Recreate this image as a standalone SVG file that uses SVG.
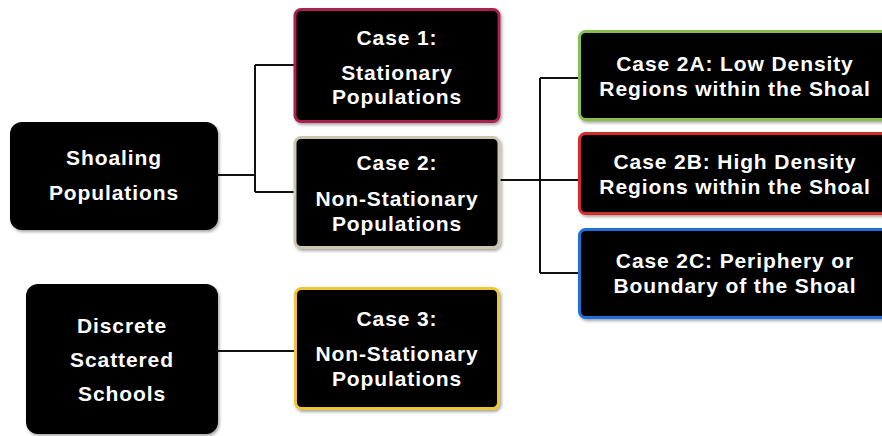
<svg xmlns="http://www.w3.org/2000/svg" width="882" height="436" viewBox="0 0 882 436">
<defs>
<style>
.box{fill:#000;}
.t{fill:#fff;font-family:"Liberation Sans",Arial,sans-serif;font-weight:bold;font-size:21px;letter-spacing:0.9px;text-anchor:middle;}
.c{fill:none;stroke:#111;stroke-width:2;}
</style>
<filter id="sh" x="-10%" y="-10%" width="130%" height="130%">
<feDropShadow dx="1.5" dy="2" stdDeviation="1.5" flood-color="#000" flood-opacity="0.35"/>
</filter>
</defs>
<rect width="882" height="436" fill="#fff"/>
<g id="connectors">
<path class="c" d="M218 175 H255 M255 65 V192 M255 65 H294 M255 192 H294"/>
<path class="c" d="M500 180 H540 M540 78 V273 M540 78 H578 M540 180 H578 M540 273 H578"/>
<path class="c" d="M218 351 H294"/>
</g>
<g id="shoaling">
<rect class="box" x="10" y="122" width="208" height="108" rx="12" filter="url(#sh)"/>
<text class="t" x="114" y="165">Shoaling</text>
<text class="t" x="114" y="200">Populations</text>
</g>
<g id="case1">
<rect class="box" x="295" y="9.5" width="204" height="112" rx="6" stroke="#a8234f" stroke-width="3" filter="url(#sh)"/>
<text class="t" x="397" y="45">Case 1:</text>
<text class="t" x="397" y="80">Stationary</text>
<text class="t" x="397" y="104">Populations</text>
</g>
<g id="case2">
<rect class="box" x="295" y="137.5" width="204" height="110" rx="6" stroke="#cdc6ae" stroke-width="3" filter="url(#sh)"/>
<text class="t" x="397" y="170">Case 2:</text>
<text class="t" x="397" y="206">Non-Stationary</text>
<text class="t" x="397" y="231">Populations</text>
</g>
<g id="case2a">
<rect class="box" x="579.5" y="31.5" width="320" height="88" rx="6" stroke="#86bf4e" stroke-width="3" filter="url(#sh)"/>
<text class="t" x="735" y="71">Case 2A: Low Density</text>
<text class="t" x="735" y="96">Regions within the Shoal</text>
</g>
<g id="case2b">
<rect class="box" x="579.5" y="133.5" width="320" height="80" rx="6" stroke="#d42a2a" stroke-width="3" filter="url(#sh)"/>
<text class="t" x="735" y="169">Case 2B: High Density</text>
<text class="t" x="735" y="194">Regions within the Shoal</text>
</g>
<g id="case2c">
<rect class="box" x="579.5" y="229.5" width="320" height="88" rx="6" stroke="#1f6fd8" stroke-width="3" filter="url(#sh)"/>
<text class="t" x="735" y="268">Case 2C: Periphery or</text>
<text class="t" x="735" y="293">Boundary of the Shoal</text>
</g>
<g id="discrete">
<rect class="box" x="26" y="284" width="192" height="150" rx="12" filter="url(#sh)"/>
<text class="t" x="122" y="333">Discrete</text>
<text class="t" x="122" y="367">Scattered</text>
<text class="t" x="122" y="401">Schools</text>
</g>
<g id="case3">
<rect class="box" x="295.5" y="288.5" width="203" height="120" rx="6" stroke="#f0c530" stroke-width="3" filter="url(#sh)"/>
<text class="t" x="397" y="326">Case 3:</text>
<text class="t" x="397" y="361">Non-Stationary</text>
<text class="t" x="397" y="386">Populations</text>
</g>
</svg>
